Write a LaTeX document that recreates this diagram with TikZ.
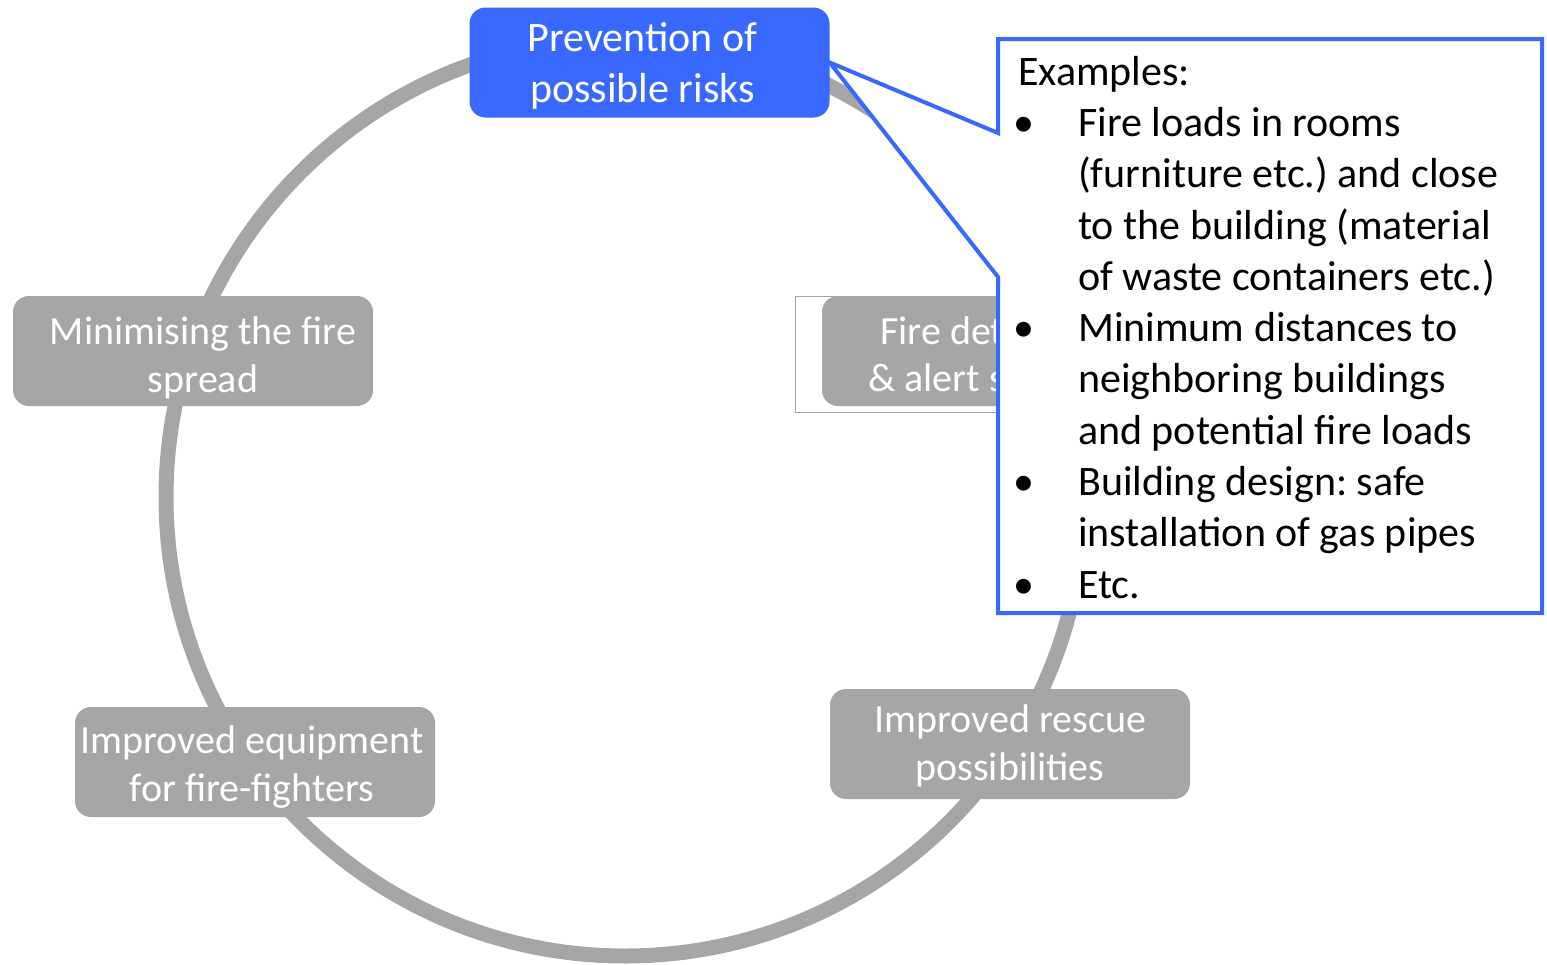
\documentclass[tikz,border=0pt]{standalone}
\usepackage{fontspec}
\setmainfont{Carlito}
\frenchspacing
\definecolor{cblue}{RGB}{56,104,255}
\definecolor{cgray}{RGB}{166,166,166}
\begin{document}
\begin{tikzpicture}[x=1pt,y=-1pt,
  gbox/.style={rounded corners=16pt, fill=cgray,
    minimum width=360pt, minimum height=110pt, inner sep=0pt},
  bbox/.style={gbox, fill=cblue},
  gtext/.style={text=white, align=center, inner sep=0pt,
    font=\fontsize{40}{48}\selectfont},
  btext/.style={gtext, font=\fontsize{42}{51.5}\selectfont},
  dtext/.style={text=white, inner sep=0pt, anchor=base west,
    font=\fontsize{40}{48}\selectfont},
  callout/.style={draw=cblue, line width=4pt, fill=white, line join=miter},
  ring/.style={draw=cgray, line width=15pt}]
\useasboundingbox (0,0) rectangle (1547,964);
\coordinate (c) at (625,497);
\draw[ring] (c) circle (459pt);
% frame around the partly hidden box
\node[draw=cgray, line width=1pt, fill=white, minimum width=415pt, minimum height=116pt, inner sep=0pt] (frame) at (1002.5,354) {};
\node[gbox] (det) at (1002,351) {};
\node[dtext] (deta) at (880,344) {Fire det};
\node[dtext] (detb) at (868,391.5) {\& alert s};
\node[gbox] (min) at (193,351) {};
\node[gtext] (mint) at ([shift={(10,6.5)}]min.center) {Minimising the fire\\spread};
\node[gbox] (equ) at (255,762) {};
\node[gtext] (equt) at ([shift={(-3,5)}]equ.center) {Improved equipment\\for fire-fighters};
\node[gbox] (res) at (1010,744) {};
\node[gtext] (rest) at ([shift={(0,1.5)}]res.center) {Improved rescue\\possibilities};
\node[bbox] (prev) at (649.5,62.5) {};
\node[btext] (prevt) at ([shift={(-7,3.5)}]prev.center) {Prevention of\\possible risks};
\coordinate (tip) at (prev.east);
\coordinate (a1) at (998,133);
\coordinate (a2) at (998,277);
\draw[callout] (998,39) -- (1542,39) -- (1542,613) -- (998,613) -- (a2) -- (tip) -- (a1) -- cycle;
\node[anchor=north west, inner sep=0pt, align=left, font=\fontsize{42}{51.3}\selectfont] (ex) at (1018,49) {%
\begin{tabular}{@{}p{60pt}@{}l@{}}
\multicolumn{2}{@{}l@{}}{Examples:}\\
\hspace*{-5pt}•& Fire loads in rooms\\
 & (furniture etc.) and close\\
 & to the building (material\\
 & of waste containers etc.)\\
\hspace*{-5pt}•& Minimum distances to\\
 & neighboring buildings\\
 & and potential fire loads\\
\hspace*{-5pt}•& Building design: safe\\
 & installation of gas pipes\\
\hspace*{-5pt}•& Etc.
\end{tabular}};
\end{tikzpicture}
\end{document}
